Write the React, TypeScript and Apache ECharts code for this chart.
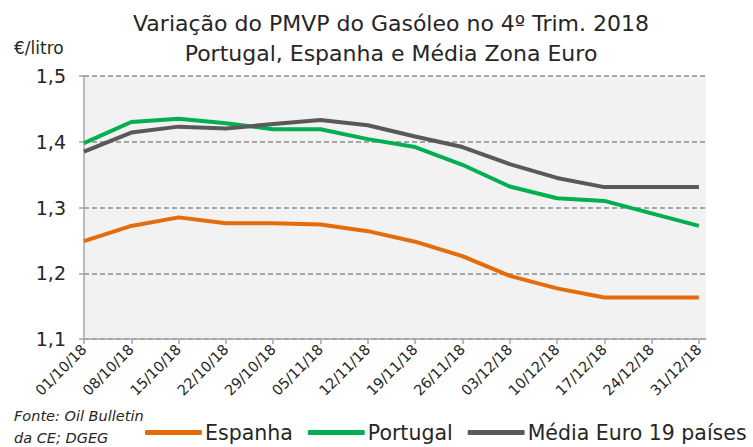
import React, { useEffect, useRef } from "react";
import * as echarts from "echarts";

const titleLines = ["Variação do PMVP do Gasóleo no 4º Trim. 2018", "Portugal, Espanha e Média Zona Euro"];
const yUnit = "€/litro";
const sourceLines = ["Fonte: Oil Bulletin", "da CE; DGEG"];

const dates = ["01/10/18", "08/10/18", "15/10/18", "22/10/18", "29/10/18", "05/11/18", "12/11/18", "19/11/18", "26/11/18", "03/12/18", "10/12/18", "17/12/18", "24/12/18", "31/12/18"];
const espanha = [1.249, 1.272, 1.285, 1.276, 1.276, 1.274, 1.264, 1.248, 1.226, 1.196, 1.177, 1.163, 1.163, 1.163];
const portugal = [1.398, 1.430, 1.435, 1.428, 1.419, 1.419, 1.404, 1.392, 1.365, 1.332, 1.314, 1.310, 1.291, 1.272];
const media = [1.385, 1.414, 1.423, 1.420, 1.427, 1.433, 1.425, 1.408, 1.392, 1.366, 1.345, 1.331, 1.331, 1.331];
const seriesNames = ["Espanha", "Portugal", "Média Euro 19 países"];
const seriesColors = ["#E46C0A", "#00B050", "#595959"];

const FONT = "DejaVu Sans";

export default function App() {
  const ref = useRef<HTMLDivElement>(null);
  useEffect(() => {
    if (!ref.current) return;
    const chart = echarts.init(ref.current, null, { renderer: "svg" });
    const idx = dates.map((_, i) => i);
    const toPairs = (arr: number[]) => arr.map((v, i) => [i, v]);
    const allData = [espanha, portugal, media];
    chart.setOption({
      animation: false,
      backgroundColor: "#ffffff",
      textStyle: { fontFamily: FONT },
      title: [
        {
          text: titleLines.join("\n"),
          left: 386,
          top: 3,
          textAlign: "center",
          textStyle: { fontFamily: FONT, fontSize: 22, fontWeight: "normal", color: "#262626", lineHeight: 30 },
        },
      ],
      graphic: [
        { type: "text", left: 14, top: 39, style: { text: yUnit, font: `17px '${FONT}'`, fill: "#262626" } },
        {
          type: "text",
          left: 14,
          top: 405,
          style: { text: sourceLines.join("\n"), font: `italic 14.5px '${FONT}'`, fill: "#262626", lineHeight: 22 },
        },
      ],
      legend: {
        left: 145,
        top: 422,
        width: 660,
        padding: 0,
        itemWidth: 57,
        itemHeight: 5,
        itemGap: 15,
        icon: "roundRect",
        textStyle: { fontFamily: FONT, fontSize: 20.5, color: "#262626", padding: [0, 0, 0, -2] },
        data: seriesNames,
      },
      grid: { left: 84, right: 47, top: 76, bottom: 108, containLabel: false, show: true, backgroundColor: "#F2F2F2", borderWidth: 0 },
      xAxis: {
        type: "value",
        min: 0,
        max: 13.15,
        interval: 1,
        axisLine: { show: true, lineStyle: { color: "#A6A6A6", width: 1.5 } },
        axisTick: { show: true, length: 5, customValues: idx, lineStyle: { color: "#A6A6A6", width: 1.5 } },
        axisLabel: {
          customValues: idx,
          rotate: 45,
          margin: 8,
          fontFamily: FONT,
          fontSize: 14.5,
          color: "#262626",
          formatter: (v: number) => dates[Math.round(v)] ?? "",
        },
        splitLine: { show: false },
      },
      yAxis: {
        type: "value",
        min: 1.1,
        max: 1.5,
        interval: 0.1,
        axisLine: { show: true, lineStyle: { color: "#A6A6A6", width: 1.5 } },
        axisTick: { show: true, length: 5, lineStyle: { color: "#A6A6A6", width: 1.5 } },
        axisLabel: {
          margin: 18,
          fontFamily: FONT,
          fontSize: 19,
          color: "#262626",
          formatter: (v: number) => v.toFixed(1).replace(".", ","),
        },
        splitLine: { show: true, lineStyle: { color: "#8C8C8C", type: [5, 3], width: 1.5 } },
      },
      series: seriesNames.map((name, i) => ({
        name,
        type: "line",
        data: toPairs(allData[i]),
        showSymbol: false,
        symbol: "none",
        lineStyle: { color: seriesColors[i], width: 4 },
        itemStyle: { color: seriesColors[i] },
      })),
    });
    return () => chart.dispose();
  }, []);
  return <div ref={ref} style={{ position: "fixed", left: 0, top: 0, width: 753, height: 447 }} />;
}
